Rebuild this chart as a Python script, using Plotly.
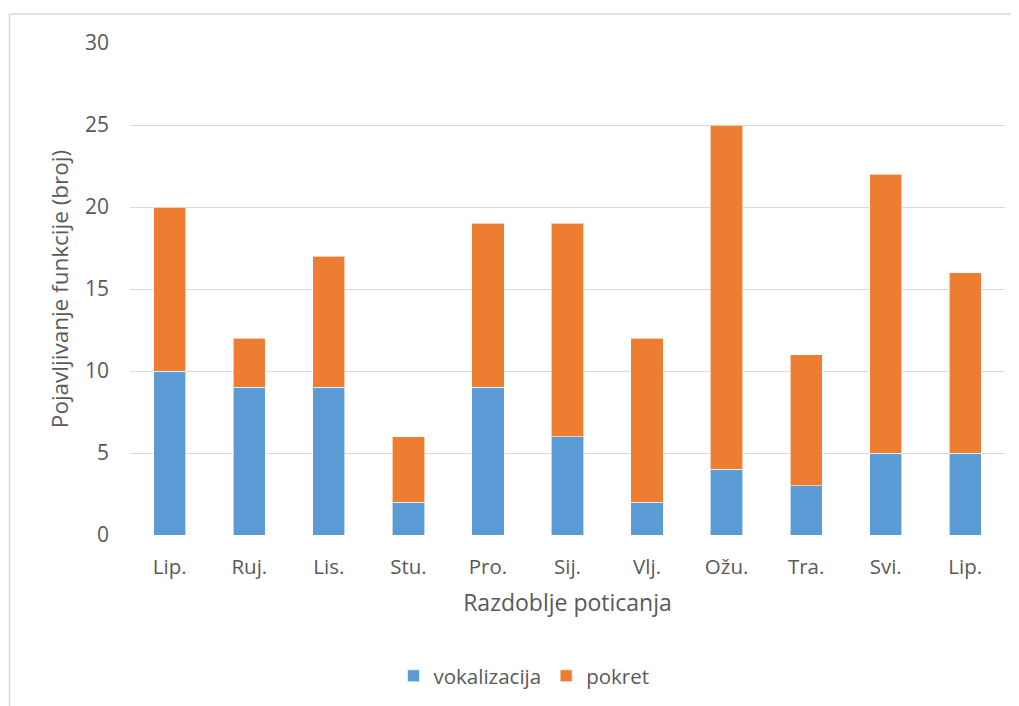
import plotly.graph_objects as go

categories = ["Lip.", "Ruj.", "Lis.", "Stu.", "Pro.", "Sij.", "Vlj.", "Ožu.", "Tra.", "Svi.", "Lip."]
vokalizacija = [10, 9, 9, 2, 9, 6, 2, 4, 3, 5, 5]
pokret = [10, 3, 8, 4, 10, 13, 10, 21, 8, 17, 11]
y_ticks = [0, 5, 10, 15, 20, 25, 30]

x = list(range(len(categories)))
OFF = 8  # page body margin
W, H = 1019 - OFF, 706 - OFF
L, R, T, B = 130 - OFF, 14, 43 - OFF, 171
pw, ph = W - L - R, H - T - B

fig = go.Figure()
fig.add_trace(go.Bar(x=x, y=vokalizacija, name="vokalizacija",
                     marker=dict(color="#5b9bd5", line=dict(color="rgba(255,255,255,0.6)", width=1))))
fig.add_trace(go.Bar(x=x, y=pokret, name="pokret",
                     marker=dict(color="#ed7d31", line=dict(color="rgba(255,255,255,0.6)", width=1))))

font = "Open Sans, sans-serif"
fig.update_layout(
    barmode="stack", bargap=0.595,
    width=W, height=H,
    margin=dict(l=L, r=R, t=T, b=B, autoexpand=False),
    paper_bgcolor="white", plot_bgcolor="white",
    font=dict(family=font, color="#595959", size=20),
    xaxis=dict(tickvals=x, ticktext=categories, range=[-0.5, len(categories) - 0.5],
               showgrid=False, zeroline=False, showline=False, ticks="",
               ticklabelstandoff=17, tickfont=dict(size=20.5, color="#595959"),
               title=dict(text="Razdoblje poticanja", font=dict(size=23, color="#595959"), standoff=16)),
    yaxis=dict(range=[0, 30], tickvals=y_ticks, showgrid=True, gridcolor="#d9d9d9", gridwidth=1.3,
               zeroline=False, showline=False, ticks="", ticklabelstandoff=20,
               tickfont=dict(size=21, color="#595959"),
               title=dict(text="Pojavljivanje funkcije (broj)", font=dict(size=22.5, color="#595959"), standoff=10)),
    legend=dict(orientation="h", x=(524 - 130) / pw, xanchor="center", y=(H - B - (676 - OFF)) / ph,
                yanchor="middle", font=dict(size=20.5, color="#595959"), itemwidth=30, traceorder="normal"),
    showlegend=True,
)

# outer chart border (cropped frame)
fig.add_shape(type="rect", xref="paper", yref="paper",
              x0=(9.5 - 130) / pw, x1=(1030 - 130) / pw,
              y0=(535 - 720) / ph, y1=(535 - 14) / ph,
              line=dict(color="#d9d9d9", width=1.5), fillcolor="rgba(0,0,0,0)", layer="below")

fig.write_html("out.html")
